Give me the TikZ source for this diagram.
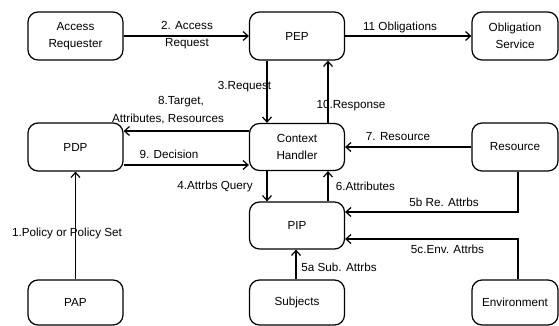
\documentclass[tikz,border=0pt]{standalone}
\usepackage{fontspec}
\setmainfont{Liberation Sans}
\usetikzlibrary{arrows.meta,positioning}

\tikzset{
	blk/.style={draw, line width=1.2pt, rounded corners=10pt, minimum width=95pt, minimum height=48pt,
		align=center, inner sep=1pt, font=\fontsize{11.7}{17}\selectfont},
	lbl/.style={inner sep=0pt, align=center, font=\fontsize{11.7}{17}\selectfont},
	flow/.style={line width=1.2pt, -{Straight Barb[length=5pt,width=9pt]}},
}

\begin{document}
\begin{tikzpicture}[x=1pt,y=-1pt]
		\useasboundingbox (0,0) rectangle (559,326);
		% boxes
		\node[blk] (acc) at (75.5,36) {Access\\Requester};
		\node[blk] (pep) at (297,36) {PEP};
		\node[blk, minimum width=86pt] (obl) at (515,36) {Obligation\\Service};
		\node[blk] (pdp) at (75.5,147) {PDP};
		\node[blk, minimum height=47pt] (ctx) at (297,147) {Context\\Handler};
		\node[blk, minimum width=86pt] (res) at (515,147) {Resource};
		\node[blk, minimum height=47pt] (pip) at (297,225.5) {PIP};
		\node[blk, minimum height=45pt] (pap) at (75.5,302.5) {PAP};
		\node[blk, minimum height=45pt] (sub) at (297,302.5) {Subjects};
		\node[blk, minimum width=86pt, minimum height=45pt] (env) at (515,302.5) {Environment};
		%
		\draw[flow] (acc) -- (pep);
		\draw[flow] (pep) -- (obl);
		\draw[flow] ([xshift=-30pt]pep.south) -- ([xshift=-30pt]ctx.north);
		\draw[flow] ([xshift=31pt]ctx.north) -- ([xshift=31pt]pep.south);
		\draw[flow] ([yshift=16pt]ctx.west) -- ([yshift=16pt]pdp.east);
		\draw[flow] ([yshift=-18pt]pdp.east) -- ([yshift=-18pt]ctx.west);
		\draw[flow] (res) -- (ctx);
		\draw[flow] ([xshift=-30pt]ctx.south) -- ([xshift=-30pt]pip.north);
		\draw[flow] ([xshift=31pt]pip.north) -- ([xshift=31pt]ctx.south);
		\draw[flow] ([xshift=3pt]res.south) |- ([yshift=13.5pt]pip.east);
		\draw[flow] ([xshift=3pt]env.north) |- ([yshift=-13.5pt]pip.east);
		\draw[flow] ([xshift=-1pt]sub.north) -- ([xshift=-1pt]pip.south);
		\draw[flow] (pap) -- (pdp);
		% labels
		\node[lbl] (l2) at (187,35.5) {2. Access\\Request};
		\node[lbl] (l11) at (400,27) {11 Obligations};
		\node[lbl] (l3) at (244.5,87) {3.Request};
		\node[lbl] (l8a) at (181,102) {8.Target,};
		\node[lbl] (l8b) at (168,119) {Attributes, Resources};
		\node[lbl] (l9) at (169,154) {9. Decision};
		\node[lbl] (l10) at (351,106) {10.Response};
		\node[lbl] (l7) at (398,137) {7. Resource};
		\node[lbl] (l4) at (215,186) {4.Attrbs Query};
		\node[lbl] (l6) at (365.5,186) {6.Attributes};
		\node[lbl] (l5b) at (444,202) {5b Re. Attrbs};
		\node[lbl] (l5c) at (447.5,249) {5c.Env. Attrbs};
		\node[lbl] (l5a) at (339,267) {5a Sub. Attrbs};
		\node[lbl] (l1) at (67,233) {1.Policy or Policy Set};
\end{tikzpicture}
\end{document}
